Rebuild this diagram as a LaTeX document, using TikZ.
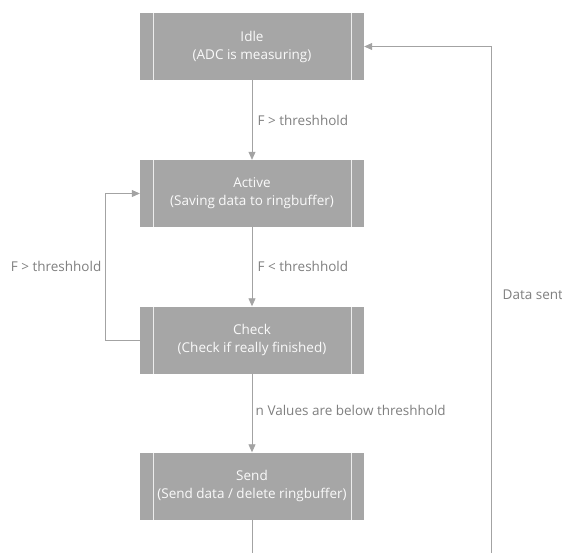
\documentclass[tikz,border=0pt]{standalone}
\usepackage{fontspec}
\setmainfont{Open Sans}
\usetikzlibrary{arrows.meta}
\definecolor{boxgray}{HTML}{A6A6A6}
\definecolor{linegray}{HTML}{A3A3A3}
\definecolor{labelgray}{HTML}{7F7F7F}
\tikzset{
  proc/.style={fill=boxgray, text=white!94!boxgray, font=\fontsize{13.5}{18}\selectfont,
    minimum width=224pt, minimum height=67pt, align=center, inner sep=0pt,
    path picture={\draw[white!80!boxgray, line width=0.8pt]
      ([xshift=13pt]path picture bounding box.north west) -- ([xshift=13pt]path picture bounding box.south west)
      ([xshift=-13pt]path picture bounding box.north east) -- ([xshift=-13pt]path picture bounding box.south east);}},
  flow/.style={draw=linegray, line width=0.8pt, -{Triangle[length=8pt,width=7pt]}},
  lbl/.style={text=labelgray, font=\fontsize{13.5}{15}\selectfont}
}
\begin{document}
\begin{tikzpicture}[x=1pt,y=-1pt]
        \useasboundingbox (0,0) rectangle (562,552);
        \clip (0,0) rectangle (562,552);
        % states
        \node[proc] (idle)   at (252,46.5)  {Idle\\(ADC is measuring)};
        \node[proc] (active) at (252,193.5) {Active\\(Saving data to ringbuffer)};
        \node[proc] (check)  at (252,340)   {Check\\(Check if really finished)};
        \node[proc] (send)   at (252,486)   {Send\\(Send data / delete ringbuffer)};
        \coordinate (loopl) at (105,0);
        \coordinate (loopr) at (491,570);
        % transitions
        \draw[flow] (idle) -- node[lbl,right=2pt] {F > threshhold} (active);
        \draw[flow] (active) -- node[lbl,right=2pt] {F < threshhold} (check);
        \draw[flow] (check) -- node[lbl,right=0pt,pos=0.47] {n Values are below threshhold} (send);
        \draw[flow] (check.west) -| (loopl |- check.west) -- node[lbl,left=0pt] {F > threshhold} (loopl |- active.west) -- (active.west);
        \draw[flow] (send.south) -- (send.south |- loopr) -- (loopr) -- node[lbl,right=8pt,pos=0.525] {Data sent} (loopr |- idle.east) -- (idle.east);
\end{tikzpicture}
\end{document}
